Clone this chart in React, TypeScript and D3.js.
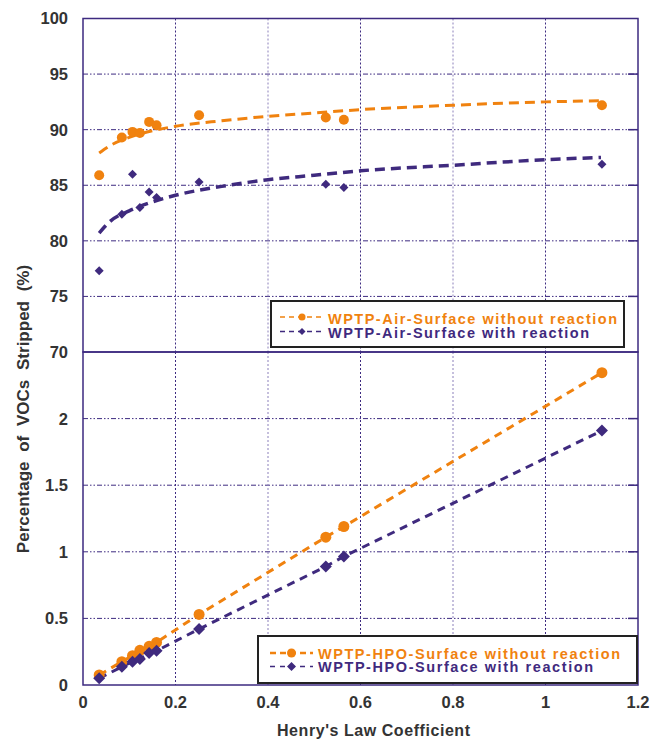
import * as d3 from "d3";

// Henry's law coefficient of each compound (shared x)
const henry = [0.035, 0.084, 0.107, 0.123, 0.143, 0.159, 0.251, 0.525, 0.564, 1.122];

// top panel: WPTP air surface
const airNoReaction = [85.9, 89.3, 89.8, 89.7, 90.7, 90.4, 91.3, 91.1, 90.9, 92.2];
const airReaction = [77.3, 82.4, 86.0, 83.0, 84.4, 83.9, 85.3, 85.1, 84.8, 86.9];

// trend curves
const airTrendX = [0.035, 0.06, 0.1, 0.15, 0.2, 0.3, 0.4, 0.5, 0.6, 0.8, 1.0, 1.12];
const airTrendNoReaction = [87.9, 88.6, 89.3, 89.9, 90.3, 90.8, 91.2, 91.5, 91.8, 92.2, 92.5, 92.6];
const airTrendReaction = [80.7, 81.8, 82.7, 83.5, 84.1, 84.9, 85.5, 85.9, 86.3, 86.8, 87.3, 87.5];

// bottom panel: WPTP HPO surface
const hpoNoReaction = [0.075, 0.175, 0.22, 0.26, 0.29, 0.32, 0.53, 1.11, 1.19, 2.345];
const hpoReaction = [0.05, 0.137, 0.175, 0.195, 0.24, 0.257, 0.42, 0.89, 0.965, 1.91];

const xTicks = [0, 0.2, 0.4, 0.6, 0.8, 1, 1.2];
const topTicks = [70, 75, 80, 85, 90, 95, 100];
const bottomTicks = [0, 0.5, 1, 1.5, 2];

const ORANGE = "#f0820f";
const PURPLE = "#3f2a7e";
const FRAME = "#3d2a80";
const TEXT = "#333333";
const FONT = "'Liberation Sans', Arial, sans-serif";

const left = 83;
const right = 638;
const topY = 18.5;
const midY = 352;
const bottomY = 685;

export default function App() {
  const x = d3.scaleLinear().domain([0, 1.2]).range([left, right]);
  const yTop = d3.scaleLinear().domain([70, 100]).range([midY, topY]);
  const yBot = d3.scaleLinear().domain([0, 2.5]).range([bottomY, midY]);

  const lineTop = d3
    .line<[number, number]>()
    .x((d) => x(d[0]))
    .y((d) => yTop(d[1]))
    .curve(d3.curveMonotoneX);
  const lineBot = d3
    .line<[number, number]>()
    .x((d) => x(d[0]))
    .y((d) => yBot(d[1]));

  const zip = (xs: number[], ys: number[]) => xs.map((v, i) => [v, ys[i]] as [number, number]);
  const sorted = (pts: [number, number][]) => pts.slice().sort((a, b) => a[0] - b[0]);

  const diamond = (cx: number, cy: number, r: number) =>
    `M${cx},${cy - r}L${cx + r},${cy}L${cx},${cy + r}L${cx - r},${cy}Z`;

  const hGrid = (ys: number[], scale: (v: number) => number) =>
    ys.map((v) => (
      <g key={v}>
        <line x1={left} x2={right} y1={scale(v)} y2={scale(v)} stroke={FRAME} strokeWidth={1} strokeDasharray="5,2,1.5,2,1.5,2" />
        <line x1={right - 10} x2={right} y1={scale(v)} y2={scale(v)} stroke={FRAME} strokeWidth={1.5} />
      </g>
    ));

  const vGrid = (y0: number, y1: number) =>
    xTicks.slice(1, -1).map((v, i) => (
      <line key={v} x1={x(v)} x2={x(v)} y1={y0} y2={y1} stroke={i % 2 === 0 ? FRAME : "#8c80bb"} strokeWidth={1} strokeDasharray="2,2" />
    ));

  return (
    <svg
      width={651}
      height={742}
      style={{ display: "block", position: "absolute", left: 0, top: 0 }}
      fontFamily={FONT}
    >
      <rect width={651} height={742} fill="#fff" />

      {/* grids */}
      {hGrid(topTicks.slice(1, -1), yTop)}
      {hGrid(bottomTicks.slice(1), yBot)}
      {vGrid(topY, midY)}
      {vGrid(midY, bottomY)}

      {/* top panel trend + points */}
      <path d={lineTop(zip(airTrendX, airTrendNoReaction)) ?? ""} fill="none" stroke={ORANGE} strokeWidth={3} strokeDasharray="10,6" />
      <path d={lineTop(zip(airTrendX, airTrendReaction)) ?? ""} fill="none" stroke={PURPLE} strokeWidth={3.5} strokeDasharray="10,6" />
      {henry.map((h, i) => (
        <circle key={"ao" + i} cx={x(h)} cy={yTop(airNoReaction[i])} r={5} fill={ORANGE} />
      ))}
      {henry.map((h, i) => (
        <path key={"ar" + i} d={diamond(x(h), yTop(airReaction[i]), 4.5)} fill={PURPLE} />
      ))}

      {/* bottom panel lines + points */}
      <path d={lineBot(sorted(zip(henry, hpoNoReaction))) ?? ""} fill="none" stroke={ORANGE} strokeWidth={3} strokeDasharray="8,6" />
      <path d={lineBot(sorted(zip(henry, hpoReaction))) ?? ""} fill="none" stroke={PURPLE} strokeWidth={3} strokeDasharray="8,6" />
      {henry.map((h, i) => (
        <circle key={"ho" + i} cx={x(h)} cy={yBot(hpoNoReaction[i])} r={5.5} fill={ORANGE} />
      ))}
      {henry.map((h, i) => (
        <path key={"hr" + i} d={diamond(x(h), yBot(hpoReaction[i]), 6)} fill={PURPLE} />
      ))}

      {/* frames */}
      <rect x={left} y={topY} width={right - left} height={midY - topY} fill="none" stroke={FRAME} strokeWidth={1.5} />
      <rect x={left} y={midY} width={right - left} height={bottomY - midY} fill="none" stroke={FRAME} strokeWidth={1.5} />

      {/* top legend */}
      <g>
        <rect x={271} y={301} width={353} height={46} fill="#fff" stroke="#222" strokeWidth={2} />
        <line x1={280} x2={325} y1={317} y2={317} stroke={ORANGE} strokeWidth={1.5} strokeDasharray="5,4" />
        <circle cx={302} cy={317} r={3.5} fill={ORANGE} />
        <line x1={280} x2={325} y1={331.5} y2={331.5} stroke={PURPLE} strokeWidth={1.5} strokeDasharray="5,4" />
        <path d={diamond(302, 331.5, 3.5)} fill={PURPLE} />
        <text x={328} y={323.5} fontSize={14.5} fontWeight="bold" fill={ORANGE} textLength={289} lengthAdjust="spacing">
          WPTP-Air-Surface without reaction
        </text>
        <text x={328} y={338} fontSize={14.5} fontWeight="bold" fill={PURPLE} textLength={261} lengthAdjust="spacing">
          WPTP-Air-Surface with reaction
        </text>
      </g>

      {/* bottom legend */}
      <g>
        <rect x={258} y={636} width={379} height={47} fill="#fff" stroke="#222" strokeWidth={2} />
        <line x1={270} x2={313} y1={653} y2={653} stroke={ORANGE} strokeWidth={2.5} strokeDasharray="6,4" />
        <circle cx={291.5} cy={653} r={4.5} fill={ORANGE} />
        <line x1={270} x2={313} y1={666.5} y2={666.5} stroke={PURPLE} strokeWidth={1.5} strokeDasharray="5,5" />
        <path d={diamond(291.5, 666.5, 4.5)} fill={PURPLE} />
        <text x={318} y={658.5} fontSize={14.5} fontWeight="bold" fill={ORANGE} textLength={302} lengthAdjust="spacing">
          WPTP-HPO-Surface without reaction
        </text>
        <text x={318} y={672} fontSize={14.5} fontWeight="bold" fill={PURPLE} textLength={275} lengthAdjust="spacing">
          WPTP-HPO-Surface with reaction
        </text>
      </g>

      {/* tick labels */}
      {topTicks.map((v) => (
        <text key={"t" + v} x={68} y={yTop(v)} dy="0.36em" textAnchor="end" fontSize={16.5} fontWeight="bold" fill={TEXT}>
          {v}
        </text>
      ))}
      {bottomTicks.map((v) => (
        <text key={"b" + v} x={68} y={yBot(v)} dy="0.36em" textAnchor="end" fontSize={16.5} fontWeight="bold" fill={TEXT}>
          {v}
        </text>
      ))}
      {xTicks.map((v) => (
        <text key={"x" + v} x={x(v)} y={708} textAnchor="middle" fontSize={16.5} fontWeight="bold" fill={TEXT}>
          {v}
        </text>
      ))}

      {/* axis titles */}
      <text x={373.5} y={736} textAnchor="middle" fontSize={16} fontWeight="bold" fill={TEXT} textLength={193} lengthAdjust="spacing">
        Henry's Law Coefficient
      </text>
      <text
        transform="translate(29,409) rotate(-90)"
        textAnchor="middle"
        fontSize={17}
        fontWeight="bold"
        fill={TEXT}
        wordSpacing={5}
      >
        Percentage of VOCs Stripped (%)
      </text>
    </svg>
  );
}
